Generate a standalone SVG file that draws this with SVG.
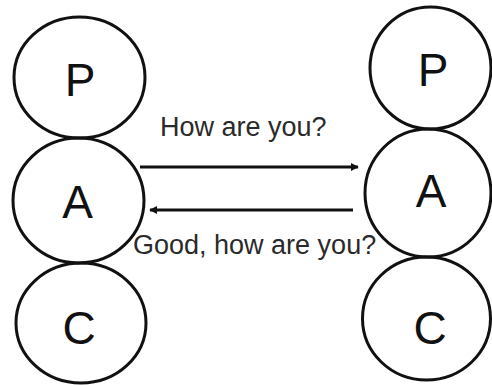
<svg xmlns="http://www.w3.org/2000/svg" width="492" height="385" viewBox="0 0 492 385">
<style>
.node ellipse{fill:none;stroke:#111;stroke-width:3}
.lbl{font-family:"Liberation Sans",Arial,sans-serif;font-size:46px;fill:#111;text-anchor:middle}
.msg{font-family:"Liberation Sans",Arial,sans-serif;font-size:27px;fill:#2a2a2a}
.conn line{stroke:#111;stroke-width:3}
</style>
<defs>
<marker id="ah" viewBox="0 0 10 10" refX="9" refY="5" markerWidth="3.2" markerHeight="2.6" orient="auto" markerUnits="strokeWidth">
<path d="M0,0 L10,5 L0,10 z" fill="#111"/>
</marker>
</defs>
<rect width="492" height="385" fill="#fff"/>
<g id="left-P" class="node"><ellipse cx="79.5" cy="77.5" rx="65.5" ry="60.5"/><text class="lbl" x="80" y="96">P</text></g>
<g id="left-A" class="node"><ellipse cx="78.5" cy="200.5" rx="65.5" ry="62.5"/><text class="lbl" x="77.5" y="218">A</text></g>
<g id="left-C" class="node"><ellipse cx="81" cy="323" rx="65" ry="60"/><text class="lbl" x="79" y="344">C</text></g>
<g id="right-P" class="node"><ellipse cx="430.5" cy="68" rx="60.5" ry="61"/><text class="lbl" x="433" y="86">P</text></g>
<g id="right-A" class="node"><ellipse cx="428" cy="193" rx="63" ry="64"/><text class="lbl" x="431" y="207">A</text></g>
<g id="right-C" class="node"><ellipse cx="426.5" cy="318.5" rx="64" ry="61.5"/><text class="lbl" x="430" y="344">C</text></g>
<g id="connectors" class="conn">
<line x1="140" y1="167" x2="358" y2="167" marker-end="url(#ah)"/>
<line x1="353" y1="210" x2="150" y2="210" marker-end="url(#ah)"/>
</g>
<text class="msg" x="160" y="136">How are you?</text>
<text class="msg" x="133" y="254">Good, how are you?</text>
</svg>
